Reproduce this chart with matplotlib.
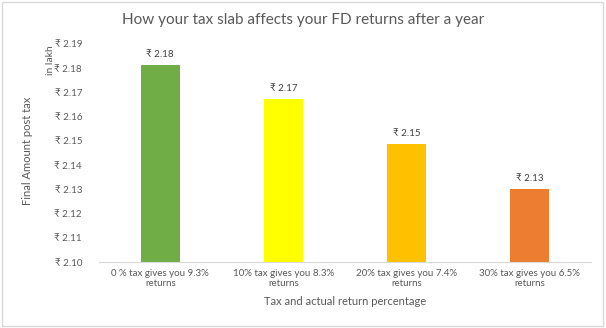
import matplotlib.pyplot as plt
from matplotlib.patches import Rectangle

plt.rcParams['font.family'] = ['Lato', 'DejaVu Sans']

categories = ['0 % tax gives you 9.3%\nreturns', '10% tax gives you 8.3%\nreturns',
              '20% tax gives you 7.4%\nreturns', '30% tax gives you 6.5%\nreturns']
final_amount = [2.1813, 2.1674, 2.1488, 2.1302]
bar_colors = ['#70AD47', '#FFFF00', '#FFC000', '#ED7D31']
yticks = [2.10, 2.11, 2.12, 2.13, 2.14, 2.15, 2.16, 2.17, 2.18, 2.19]

txt = '#595959'

fig = plt.figure(figsize=(6.06, 3.28), dpi=100)
ax = fig.add_axes([0.163, 0.201, 0.812, 0.665])

x = range(len(categories))
bars = ax.bar(x, final_amount, width=0.317, color=bar_colors)
for b, v in zip(bars, final_amount):
    ax.text(b.get_x() + b.get_width() / 2, v + 0.0025, f'₹ {v:.2f}',
            ha='center', va='bottom', fontsize=7, color='#404040')

ax.set_xlim(-0.5, len(categories) - 0.5)
ax.set_ylim(2.10, 2.19)
ax.set_yticks(yticks)
ax.set_yticklabels([f'₹ {t:.2f}' for t in yticks])
ax.set_xticks(list(x))
ax.set_xticklabels(categories, linespacing=1.1)
ax.tick_params(axis='both', length=0, labelsize=7, labelcolor=txt)
ax.tick_params(axis='y', pad=12)
ax.tick_params(axis='x', pad=5)

for side in ['top', 'right', 'left']:
    ax.spines[side].set_visible(False)
ax.spines['bottom'].set_color('#D9D9D9')

ax.set_xlabel('Tax and actual return percentage', fontsize=8, color=txt, labelpad=6)
fig.text(0.046, 0.54, 'Final Amount post tax', rotation=90, ha='center', va='center',
         fontsize=8, color=txt)
fig.text(0.083, 0.815, 'in lakh', rotation=90, ha='center', va='center',
         fontsize=7.5, color=txt)
fig.text(0.5, 0.94, 'How your tax slab affects your FD returns after a year',
         ha='center', va='center', fontsize=11, color=txt)

fig.patches.append(Rectangle((0.003, 0.005), 0.992, 0.99, transform=fig.transFigure,
                             fill=False, edgecolor='#D9D9D9', linewidth=1))

fig.savefig('out.png', dpi=100)
